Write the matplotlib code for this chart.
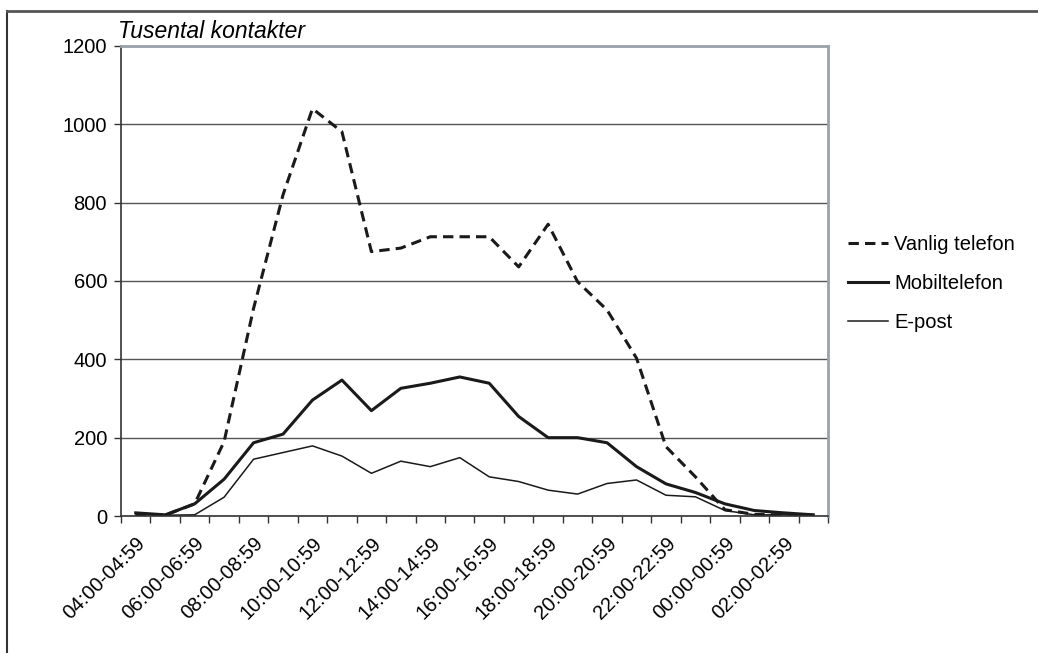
import numpy as np
import matplotlib.pyplot as plt
from matplotlib.lines import Line2D

plt.rcParams['font.family'] = ['Liberation Sans', 'DejaVu Sans']

hours = [4, 5, 6, 7, 8, 9, 10, 11, 12, 13, 14, 15, 16, 17, 18, 19, 20, 21, 22, 23, 0, 1, 2, 3]
categories = [f'{h:02d}:00-{h:02d}:59' for h in hours]

vanlig = [2, 2, 31, 190, 530, 820, 1040, 981, 675, 684, 713, 713, 713, 636, 745, 598, 526, 403,
          177, 100, 16, 4, 3, 2]
mobil = [8, 3, 31, 94, 187, 209, 296, 347, 269, 326, 339, 355, 339, 254, 200, 200, 187, 126,
         82, 60, 31, 14, 8, 3]
epost = [5, 2, 3, 48, 145, 162, 179, 153, 109, 140, 126, 149, 100, 88, 66, 56, 83, 92,
         53, 49, 14, 3, 3, 2]

W, H = 1038, 653
fig = plt.figure(figsize=(W / 100, H / 100), dpi=100)
ax = fig.add_axes([121 / W, 1 - 516 / H, (828 - 121) / W, (516 - 46) / H])

x = np.arange(len(categories))
ink = '#1a1a1a'
ax.plot(x, vanlig, color=ink, lw=2.2, dashes=(3.4, 2.0), label='Vanlig telefon')
ax.plot(x, mobil, color=ink, lw=2.2, label='Mobiltelefon')
ax.plot(x, epost, color=ink, lw=1.1, label='E-post')

ax.set_xlim(-0.5, len(categories) - 0.5)
ax.set_ylim(0, 1200)
ax.set_yticks(range(0, 1201, 200))
ax.yaxis.grid(True, color='#555555', lw=1.0)
ax.set_axisbelow(True)

# boundary ticks between categories, labels on every other category
ax.set_xticks(np.arange(-0.5, len(categories), 1.0))
ax.set_xticklabels([])
ax.set_xticks(x[::2], minor=True)
ax.set_xticklabels(categories[::2], minor=True, rotation=45, ha='right', va='top',
                   rotation_mode='anchor', fontsize=14.5)
ax.tick_params(axis='x', which='minor', length=0, pad=13)
ax.tick_params(axis='x', which='major', length=5, width=1, color='#333333', direction='out')
ax.tick_params(axis='y', length=5, width=1, color='#333333', labelsize=14.5, pad=5)

for s in ['left', 'bottom']:
    ax.spines[s].set_color('#333333')
    ax.spines[s].set_linewidth(1.2)
for s in ['top', 'right']:
    ax.spines[s].set_color('#9aa3ab')
    ax.spines[s].set_linewidth(2.0)

fig.text(118 / W, 1 - 38 / H, 'Tusental kontakter', fontsize=16.5, style='italic', va='baseline', ha='left')

leg = ax.legend(loc='center left', bbox_to_anchor=(848 / W, 1 - 283.5 / H), bbox_transform=fig.transFigure,
                frameon=False, fontsize=14.5, handlelength=2.0, handletextpad=0.3,
                labelspacing=0.98, borderpad=0, borderaxespad=0)

fig.add_artist(Line2D([7 / W, 7 / W], [0, 1 - 11 / H], transform=fig.transFigure, color='#333333', lw=1.5))
fig.add_artist(Line2D([7 / W, 1], [1 - 11 / H, 1 - 11 / H], transform=fig.transFigure, color='#555555', lw=2.0))

fig.savefig('out.png', dpi=100)
